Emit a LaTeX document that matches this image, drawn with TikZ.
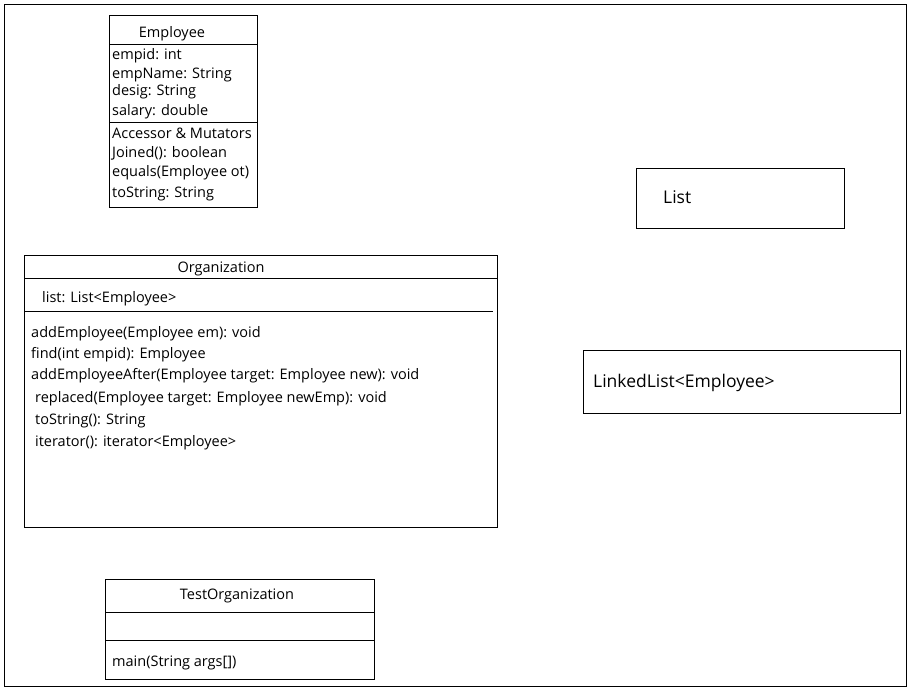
\documentclass[tikz,border=0pt]{standalone}
\usepackage{fontspec}
\setmainfont{Open Sans}
\begin{document}
\begin{tikzpicture}[x=1pt,y=-1pt,
  box/.style={draw,line width=0.8pt},
  t/.style={anchor=west,inner sep=0pt,font=\fontsize{14.5}{15}\selectfont},
  tc/.style={inner sep=0pt,font=\fontsize{14.5}{15}\selectfont}]
\useasboundingbox (0,0) rectangle (910,690);
\draw[line width=0.8pt] (4,4) rectangle (906,686);
% Employee
\draw[box] (109,15) rectangle (257,207);
\draw (109,44) -- (257,44); \draw (109,122) -- (257,122);
\node[tc] (emp) at (172,34) {Employee};
\foreach \y/\s in {56/{empid: int},75/{empName: String},92/{desig: String},112/{salary: double},133/{Accessor \& Mutators},153/{Joined(): boolean},173/{equals(Employee ot)},194/{toString: String}}
  \node[t] at (112,\y) {\s};
% Organization
\draw[box] (24,255) rectangle (497,527);
\draw (24,278) -- (497,278); \draw (24,311) -- (493,311);
\node[tc] (org) at (221,269) {Organization};
\node[t] at (42,299) {list: List<Employee>};
\foreach \y/\x/\s in {334/31/{addEmployee(Employee em): void},355/31/{find(int empid): Employee},376/31/{addEmployeeAfter(Employee target: Employee new): void},399/35/{replaced(Employee target: Employee newEmp): void},421/35/{toString(): String},443/35/{iterator(): iterator<Employee>}}
  \node[t] at (\x,\y) {\s};
% TestOrganization
\draw[box] (105,579) rectangle (374,679);
\draw (105,612) -- (374,612); \draw (105,640) -- (374,640);
\node[tc] (test) at (237,596) {TestOrganization};
\node[t] at (112,663) {main(String args[])};
% List
\draw[box] (636,168) rectangle (844,228);
\node[t,font=\fontsize{17.5}{18}\selectfont] (list) at (663,197) {List};
% LinkedList
\draw[box] (583,350) rectangle (900,413);
\node[t,font=\fontsize{17.5}{18}\selectfont] (ll) at (593,383) {LinkedList<Employee>};
\end{tikzpicture}
\end{document}
